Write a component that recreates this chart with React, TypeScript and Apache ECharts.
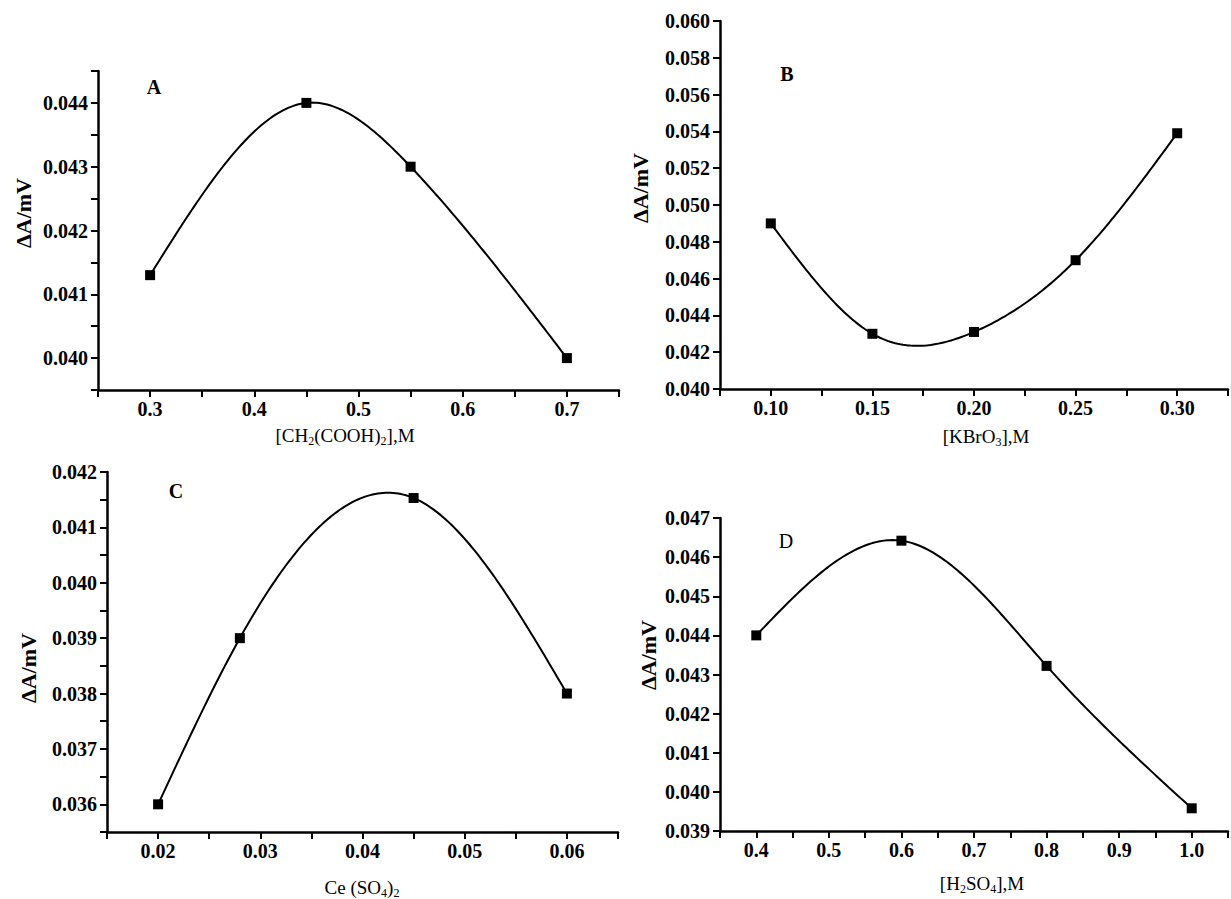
import React, { useEffect, useRef } from "react";
import * as echarts from "echarts";

// Panel A: [CH2(COOH)2], M
const xA = [0.3, 0.45, 0.55, 0.7];
const yA = [0.0413, 0.044, 0.043, 0.04];
// Panel B: [KBrO3], M
const xB = [0.1, 0.15, 0.2, 0.25, 0.3];
const yB = [0.049, 0.043, 0.0431, 0.047, 0.0539];
// Panel C: Ce(SO4)2
const xC = [0.02, 0.028, 0.045, 0.06];
const yC = [0.036, 0.039, 0.04153, 0.038];
// Panel D: [H2SO4], M
const xD = [0.4, 0.6, 0.8, 1.0];
const yD = [0.044, 0.04642, 0.04322, 0.03958];

const panelLetters = ["A", "B", "C", "D"];
const xTitles = [
  "[CH{s|2}(COOH){s|2}],M",
  "[KBrO{s|3}],M",
  "Ce (SO{s|4}){s|2}",
  "[H{s|2}SO{s|4}],M",
];
const yTitle = "ΔA/mV";

const FONT = "Liberation Serif";

const isMultiple = (v: number, step: number) => {
  const r = v / step;
  return Math.abs(r - Math.round(r)) < 1e-6;
};

// Natural cubic spline through the data points (as the original software draws it)
function naturalSpline(xs: number[], ys: number[]) {
  const n = xs.length;
  const h: number[] = [];
  for (let i = 0; i < n - 1; i++) h.push(xs[i + 1] - xs[i]);
  const alpha: number[] = new Array(n).fill(0);
  for (let i = 1; i < n - 1; i++) {
    alpha[i] = (3 / h[i]) * (ys[i + 1] - ys[i]) - (3 / h[i - 1]) * (ys[i] - ys[i - 1]);
  }
  const l = new Array(n).fill(0);
  const mu = new Array(n).fill(0);
  const z = new Array(n).fill(0);
  l[0] = 1;
  for (let i = 1; i < n - 1; i++) {
    l[i] = 2 * (xs[i + 1] - xs[i - 1]) - h[i - 1] * mu[i - 1];
    mu[i] = h[i] / l[i];
    z[i] = (alpha[i] - h[i - 1] * z[i - 1]) / l[i];
  }
  l[n - 1] = 1;
  const c = new Array(n).fill(0);
  const b = new Array(n).fill(0);
  const d = new Array(n).fill(0);
  for (let j = n - 2; j >= 0; j--) {
    c[j] = z[j] - mu[j] * c[j + 1];
    b[j] = (ys[j + 1] - ys[j]) / h[j] - (h[j] * (c[j + 1] + 2 * c[j])) / 3;
    d[j] = (c[j + 1] - c[j]) / (3 * h[j]);
  }
  return (x: number) => {
    let j = 0;
    while (j < n - 2 && x > xs[j + 1]) j++;
    const dx = x - xs[j];
    return ys[j] + b[j] * dx + c[j] * dx * dx + d[j] * dx * dx * dx;
  };
}

function xAxisCfg(i: number, min: number, max: number, interval: number, labelStep: number, digits: number) {
  return {
    type: "value",
    gridIndex: i,
    min,
    max,
    interval,
    axisLine: { show: true, onZero: false, lineStyle: { color: "#000", width: 2.5 } },
    axisTick: { show: true, inside: false, length: 7, lineStyle: { color: "#000", width: 2 } },
    axisLabel: {
      color: "#000",
      fontFamily: FONT,
      fontSize: 20,
      fontWeight: "bold",
      margin: 9,
      formatter: (v: number) => (isMultiple(v, labelStep) && v > min + 1e-9 && v < max - 1e-9 ? v.toFixed(digits) : ""),
    },
    splitLine: { show: false },
  };
}

function yAxisCfg(i: number, min: number, max: number, interval: number, labelStep: number) {
  return {
    type: "value",
    gridIndex: i,
    min,
    max,
    interval,
    axisLine: { show: true, onZero: false, lineStyle: { color: "#000", width: 2.5 } },
    axisTick: { show: true, inside: false, length: 7, lineStyle: { color: "#000", width: 2 } },
    axisLabel: {
      color: "#000",
      fontFamily: FONT,
      fontSize: 20,
      fontWeight: "bold",
      margin: 10,
      formatter: (v: number) => (isMultiple(v, labelStep) ? v.toFixed(3) : ""),
    },
    splitLine: { show: false },
  };
}

function curveSeries(i: number, xs: number[], ys: number[]) {
  const f = naturalSpline(xs, ys);
  const x0 = xs[0];
  const x1 = xs[xs.length - 1];
  const steps = 160;
  return {
    type: "custom",
    xAxisIndex: i,
    yAxisIndex: i,
    data: xs.map((x, k) => [x, ys[k]]),
    encode: { x: 0, y: 1 },
    clip: false,
    silent: true,
    renderItem: (params: any, api: any) => {
      if (params.dataIndex !== 0) return { type: "group", children: [] };
      const pts: number[][] = [];
      for (let s = 0; s <= steps; s++) {
        const x = x0 + ((x1 - x0) * s) / steps;
        pts.push(api.coord([x, f(x)]));
      }
      return {
        type: "polyline",
        shape: { points: pts },
        style: { stroke: "#000", lineWidth: 2, fill: "none" },
      };
    },
  };
}

function markerSeries(i: number, xs: number[], ys: number[]) {
  return {
    type: "scatter",
    xAxisIndex: i,
    yAxisIndex: i,
    data: xs.map((x, k) => [x, ys[k]]),
    symbol: "rect",
    symbolSize: 10,
    itemStyle: { color: "#000", opacity: 1 },
    z: 5,
  };
}

const subRich = {
  s: { fontSize: 12, fontFamily: FONT, lineHeight: 12, verticalAlign: "bottom", fill: "#000" },
};

function titleText(x: number, y: number, text: string) {
  return {
    type: "text",
    x,
    y,
    style: {
      text,
      fill: "#000",
      fontFamily: FONT,
      fontSize: 19,
      lineHeight: 24,
      align: "center",
      verticalAlign: "middle",
      rich: subRich,
    },
  };
}

function yTitleText(x: number, y: number) {
  return {
    type: "text",
    x,
    y,
    rotation: Math.PI / 2,
    style: {
      text: yTitle,
      fill: "#000",
      fontFamily: FONT,
      fontSize: 22,
      fontWeight: "bold",
      align: "center",
      verticalAlign: "middle",
    },
  };
}

function letterText(x: number, y: number, text: string, bold: boolean) {
  return {
    type: "text",
    x,
    y,
    style: {
      text,
      fill: "#000",
      fontFamily: FONT,
      fontSize: 20,
      fontWeight: bold ? "bold" : "normal",
      align: "center",
      verticalAlign: "middle",
    },
  };
}

export default function App() {
  const ref = useRef<HTMLDivElement>(null);
  useEffect(() => {
    if (!ref.current) return;
    const chart = echarts.init(ref.current, undefined, { renderer: "svg" });
    const option = {
      animation: false,
      backgroundColor: "#fff",
      grid: [
        { left: 98, top: 71, width: 521, height: 319 },
        { left: 720, top: 21, width: 520, height: 368 },
        { left: 107, top: 472, width: 511, height: 360 },
        { left: 720, top: 518, width: 512, height: 313 },
      ],
      xAxis: [
        xAxisCfg(0, 0.25, 0.75, 0.05, 0.1, 1),
        xAxisCfg(1, 0.075, 0.325, 0.025, 0.05, 2),
        xAxisCfg(2, 0.015, 0.065, 0.005, 0.01, 2),
        xAxisCfg(3, 0.35, 1.05, 0.05, 0.1, 1),
      ],
      yAxis: [
        yAxisCfg(0, 0.0395, 0.0445, 0.0005, 0.001),
        yAxisCfg(1, 0.04, 0.06, 0.002, 0.002),
        yAxisCfg(2, 0.0355, 0.042, 0.0005, 0.001),
        yAxisCfg(3, 0.039, 0.047, 0.001, 0.001),
      ],
      series: [
        curveSeries(0, xA, yA),
        curveSeries(1, xB, yB),
        curveSeries(2, xC, yC),
        curveSeries(3, xD, yD),
        markerSeries(0, xA, yA),
        markerSeries(1, xB, yB),
        markerSeries(2, xC, yC),
        markerSeries(3, xD, yD),
      ],
      graphic: [
        letterText(154, 87, panelLetters[0], true),
        letterText(787, 74, panelLetters[1], true),
        letterText(176, 491, panelLetters[2], true),
        letterText(786, 541, panelLetters[3], false),
        titleText(345, 435, xTitles[0]),
        titleText(986, 436, xTitles[1]),
        titleText(362, 887, xTitles[2]),
        titleText(982, 883, xTitles[3]),
        yTitleText(23, 213),
        yTitleText(640, 188),
        yTitleText(28, 668),
        yTitleText(648, 655),
      ],
    };
    chart.setOption(option as any);
    return () => chart.dispose();
  }, []);
  return (
    <div
      ref={ref}
      style={{ position: "absolute", left: 0, top: 0, width: 1231, height: 899, background: "#fff" }}
    />
  );
}
